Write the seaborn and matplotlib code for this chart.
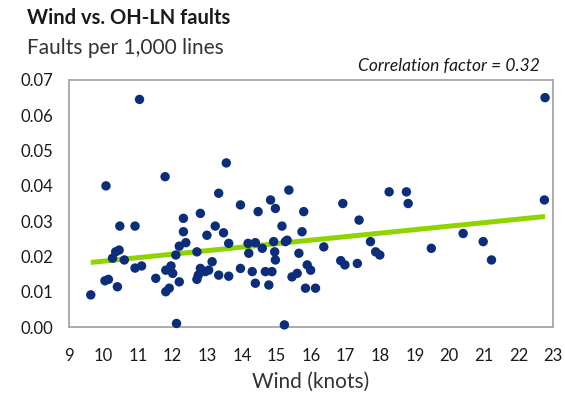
import matplotlib
matplotlib.use("Agg")
import matplotlib.pyplot as plt
import seaborn as sns
import numpy as np
import pandas as pd

# Average wind speed per event (knots)
wind = [
    9.63, 10.07, 10.04, 10.14, 10.40, 10.26, 10.35, 10.45, 10.47, 10.60,
    10.91, 10.91, 11.10, 11.04, 11.78, 11.51, 11.80, 11.95, 12.00, 11.90,
    11.80, 12.19, 12.11, 12.09, 12.19, 12.38, 12.31, 12.31, 12.70, 12.80,
    12.99, 13.23, 13.47, 13.62, 13.33, 13.55, 13.96, 14.83, 14.97, 14.47,
    15.36, 15.16, 14.18, 14.39, 14.20, 14.59, 14.92, 15.26, 14.95, 14.97,
    13.14, 12.80, 13.04, 12.74, 12.94, 12.70, 13.33, 13.62, 13.96, 14.30,
    14.39, 14.68, 14.87, 14.78, 15.45, 15.60, 15.23, 15.79, 15.74, 15.31,
    15.65, 15.89, 15.99, 15.84, 16.13, 16.37, 16.92, 16.86, 16.98, 17.34,
    17.39, 17.72, 17.87, 17.99, 18.26, 18.76, 18.81, 19.48, 20.40, 20.98,
    21.22, 22.75, 22.77,
]

# Overhead-line faults per 1,000 lines
faults = [
    0.0091, 0.0400, 0.0131, 0.0135, 0.0114, 0.0195, 0.0213, 0.0218, 0.0286, 0.0190,
    0.0286, 0.0167, 0.0173, 0.0645, 0.0426, 0.0138, 0.0161, 0.0173, 0.0152, 0.0110,
    0.0100, 0.0128, 0.0010, 0.0204, 0.0229, 0.0239, 0.0270, 0.0308, 0.0213, 0.0322,
    0.0260, 0.0286, 0.0267, 0.0237, 0.0379, 0.0465, 0.0346, 0.0360, 0.0336, 0.0327,
    0.0388, 0.0286, 0.0237, 0.0239, 0.0209, 0.0223, 0.0242, 0.0242, 0.0213, 0.0190,
    0.0185, 0.0166, 0.0161, 0.0147, 0.0157, 0.0135, 0.0147, 0.0144, 0.0166, 0.0157,
    0.0124, 0.0157, 0.0157, 0.0119, 0.0142, 0.0152, 0.0006, 0.0327, 0.0270, 0.0246,
    0.0209, 0.0176, 0.0161, 0.0110, 0.0110, 0.0227, 0.0350, 0.0188, 0.0176, 0.0180,
    0.0303, 0.0242, 0.0213, 0.0204, 0.0383, 0.0383, 0.0350, 0.0223, 0.0265, 0.0242,
    0.0190, 0.0360, 0.0650,
]

x_ticks = list(range(9, 24))
y_ticks = [0.00, 0.01, 0.02, 0.03, 0.04, 0.05, 0.06, 0.07]

df = pd.DataFrame({"wind": wind, "faults": faults})

sns.set_theme(style="white")
plt.rcParams["font.family"] = ["Lato", "DejaVu Sans"]

fig = plt.figure(figsize=(5.65, 4.0), dpi=100)
ax = fig.add_axes([0.1221, 0.1825, 0.8567, 0.6175])

dot_color = "#0b2d7a"
trend_color = "#8fd400"

sns.regplot(
    data=df, x="wind", y="faults", ax=ax, ci=None, truncate=True,
    scatter=False,
    line_kws=dict(color=trend_color, linewidth=3.6, solid_capstyle="butt", zorder=2),
)
sns.scatterplot(
    data=df, x="wind", y="faults", ax=ax, color=dot_color, s=46,
    edgecolor="none", linewidth=0, zorder=3, clip_on=False,
)

ax.set_xlim(9, 23)
ax.set_ylim(0, 0.07)
ax.set_xticks(x_ticks)
ax.set_xticklabels([str(t) for t in x_ticks])
ax.set_yticks(y_ticks)
ax.set_yticklabels([f"{t:.2f}" for t in y_ticks])
ax.tick_params(axis="both", length=0, labelsize=12, colors="#1a1a1a")
ax.tick_params(axis="x", pad=15)
ax.tick_params(axis="y", pad=11)

for side in ["left", "right", "top", "bottom"]:
    ax.spines[side].set_visible(True)
    ax.spines[side].set_color("#a6a6a6")
    ax.spines[side].set_linewidth(1.3)

ax.set_xlabel("Wind (knots)", fontsize=15, color="#333333", labelpad=6)
ax.set_ylabel("")

fig.text(27 / 565, 1 - 18 / 400, "Wind vs. OH-LN faults", fontsize=14.5,
         fontweight="bold", color="#1a1a1a", va="center", ha="left")
fig.text(27 / 565, 1 - 48 / 400, "Faults per 1,000 lines", fontsize=15,
         color="#333333", va="center", ha="left")
fig.text(540 / 565, 1 - 66 / 400, "Correlation factor = 0.32", fontsize=12.5,
         fontstyle="italic", color="#1a1a1a", va="center", ha="right")

fig.savefig("out.png", dpi=100, facecolor="white")
